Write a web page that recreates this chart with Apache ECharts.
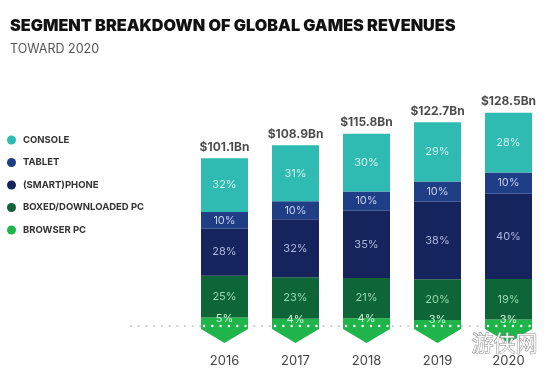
<!DOCTYPE html>
<html>
<head>
<meta charset="utf-8">
<script src="https://cdn.jsdelivr.net/npm/echarts@6/dist/echarts.min.js"></script>
<style>html,body{margin:0;padding:0;background:#fff}#c{width:550px;height:378px}</style>
</head>
<body>
<div id="c"></div>
<script>
const years = ['2016', '2017', '2018', '2019', '2020'];
const totals = [101.1, 108.9, 115.8, 122.7, 128.5];
const browserPct = [5, 4, 4, 3, 3];
const boxedPct = [25, 23, 21, 20, 19];
const phonePct = [28, 32, 35, 38, 40];
const tabletPct = [10, 10, 10, 10, 10];
const consolePct = [32, 31, 30, 29, 28];

const segs = [
  {name: 'BROWSER PC', pct: browserPct, color: '#1fb54b', label: '#c9f2d3', off: [0, -3]},
  {name: 'BOXED/DOWNLOADED PC', pct: boxedPct, color: '#0e6537', label: '#93d9ad', off: [0, 0]},
  {name: '(SMART)PHONE', pct: phonePct, color: '#16245d', label: '#aab6de', off: [0, 0]},
  {name: 'TABLET', pct: tabletPct, color: '#1f3e85', label: '#c2d0ee', off: [0, 0]},
  {name: 'CONSOLE', pct: consolePct, color: '#2fbab2', label: '#cdf3ef', off: [0, 0]}
];

const BW = 47;
const chart = echarts.init(document.getElementById('c'));
const series = segs.map(s => ({
  name: s.name,
  type: 'bar',
  stack: 'total',
  barWidth: BW,
  z: 2,
  itemStyle: {color: s.color},
  label: {
    show: true,
    position: 'inside',
    offset: s.off,
    color: s.label,
    fontSize: 11,
    fontFamily: 'Inter',
    formatter: p => s.pct[p.dataIndex] + '%'
  },
  data: totals.map((t, i) => +(t * s.pct[i] / 100).toFixed(3))
}));

series.push({
  type: 'scatter',
  symbolSize: 0,
  silent: true,
  label: {
    show: true,
    position: 'top',
    distance: 5,
    color: '#1e1e1e',
    fontSize: 12,
    fontWeight: 'bold',
    fontFamily: 'Inter',
    formatter: p => '$' + totals[p.dataIndex].toFixed(1) + 'Bn'
  },
  data: totals.map((t, i) => [i, t]),
  z: 5
});

// grey dotted baseline (behind bars)
series.push({
  type: 'custom',
  silent: true,
  z: 1,
  data: [[0, 0]],
  renderItem: (params, api) => {
    const p = api.coord([0, 0]);
    return {
      type: 'line',
      shape: {x1: 131, y1: p[1], x2: 538, y2: p[1]},
      style: {stroke: '#cdcdcd', lineWidth: 2.2, lineDash: [0.1, 7.6], lineCap: 'round'}
    };
  }
});

// chevron ends + white dots
series.push({
  type: 'custom',
  silent: true,
  z: 4,
  data: years.map((y, i) => [i, 0]),
  renderItem: (params, api) => {
    const p = api.coord([api.value(0), 0]);
    const h = BW / 2;
    return {
      type: 'group',
      children: [
        {
          type: 'polygon',
          shape: {points: [[p[0] - h, p[1] - 1], [p[0] + h, p[1] - 1], [p[0] + h, p[1] + 3], [p[0], p[1] + 17], [p[0] - h, p[1] + 3]]},
          style: {fill: '#1fb54b'}
        },
        {
          type: 'line',
          shape: {x1: p[0] - h + 3, y1: p[1], x2: p[0] + h - 2, y2: p[1]},
          style: {stroke: '#ffffff', lineWidth: 2.4, lineDash: [0.1, 8.2], lineCap: 'round'}
        }
      ]
    };
  }
});

chart.setOption({
  animation: false,
  title: {
    text: 'SEGMENT BREAKDOWN OF GLOBAL GAMES REVENUES',
    subtext: 'TOWARD 2020',
    left: 5,
    top: 13,
    itemGap: 9,
    textStyle: {fontFamily: 'Inter', fontWeight: 900, fontSize: 16.2, color: '#111'},
    subtextStyle: {fontFamily: 'Inter', fontSize: 12.5, color: '#555'}
  },
  legend: {
    orient: 'vertical',
    left: 2,
    top: 130,
    icon: 'circle',
    itemWidth: 9,
    itemHeight: 9,
    itemGap: 12.5,
    data: ['CONSOLE', 'TABLET', '(SMART)PHONE', 'BOXED/DOWNLOADED PC', 'BROWSER PC'],
    textStyle: {fontFamily: 'Inter', fontWeight: 'bold', fontSize: 9.5, color: '#333', padding: [0, 0, 0, 2]},
    selectedMode: false
  },
  grid: {left: 189, right: 6, top: 77, bottom: 52},
  xAxis: {
    type: 'category',
    data: years,
    axisLine: {show: false},
    axisTick: {show: false},
    axisLabel: {margin: 29, fontSize: 13, color: '#444', fontFamily: 'Inter'}
  },
  yAxis: {type: 'value', min: 0, max: 150, show: false},
  series: series,
  graphic: [{
    type: 'text',
    left: 471,
    top: 331,
    silent: true,
    z: 100,
    style: {text: '游侠网', fontSize: 22, fontFamily: 'Noto Sans CJK SC', fill: 'rgba(255,255,255,0.92)', stroke: '#8a8a8a', lineWidth: 1}
  }]
});
</script>
</body>
</html>
